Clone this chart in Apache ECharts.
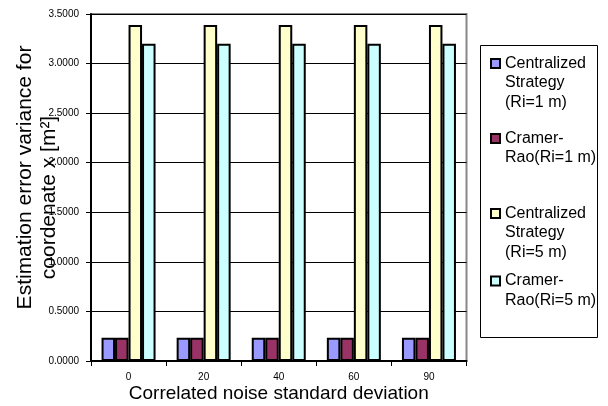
<!DOCTYPE html>
<html>
<head>
<meta charset="utf-8">
<script src="https://cdn.jsdelivr.net/npm/echarts@6/dist/echarts.min.js"></script>
<style>html,body{margin:0;padding:0;background:#fff}#c{width:608px;height:406px}</style>
</head>
<body>
<div id="c"></div>
<script>
const categories = ['0', '20', '40', '60', '90'];
const seriesNames = [
  'Centralized\nStrategy\n(Ri=1 m)',
  'Cramer-\nRao(Ri=1 m)',
  'Centralized\nStrategy\n(Ri=5 m)',
  'Cramer-\nRao(Ri=5 m)'
];
const centralizedRi1 = [0.235, 0.235, 0.235, 0.235, 0.235];
const cramerRaoRi1 = [0.235, 0.235, 0.235, 0.235, 0.235];
const centralizedRi5 = [3.39, 3.39, 3.39, 3.39, 3.39];
const cramerRaoRi5 = [3.20, 3.20, 3.20, 3.20, 3.20];
const seriesValues = [centralizedRi1, cramerRaoRi1, centralizedRi5, cramerRaoRi5];
const colors = ['#9999FF', '#993366', '#FFFFCC', '#CCFFFF'];
const xAxisTitle = 'Correlated noise standard deviation';
const yAxisTitleLines = ['Estimation error variance for', 'coordenate x [m²]'];

const chart = echarts.init(document.getElementById('c'), null, {renderer: 'canvas'});
const FONT = "'Liberation Sans', Arial, sans-serif";
const legendIconCenters = [63.5, 138.5, 213.5, 281];
const LH = 19.5;

const legends = seriesNames.map((name, i) => {
  const lines = name.split('\n').length;
  const half = (2 * lines - 1) * LH / 2;
  return {
    data: [name],
    orient: 'vertical',
    left: 490,
    top: legendIconCenters[i] - half,
    padding: 0,
    itemWidth: 9,
    itemHeight: 9,
    icon: 'rect',
    selectedMode: false,
    formatter: n => '\n'.repeat(lines - 1) + n,
    itemStyle: {borderColor: '#000', borderWidth: 2},
    textStyle: {fontFamily: FONT, fontSize: 16, color: '#000', lineHeight: LH}
  };
});

chart.setOption({
  backgroundColor: '#fff',
  animation: false,
  textStyle: {fontFamily: FONT},
  grid: {
    left: 91, right: 141.5, top: 14, bottom: 45,
    show: true, borderColor: '#888', borderWidth: 2,
    containLabel: false, outerBoundsMode: 'none'
  },
  legend: legends,
  graphic: [{
    type: 'rect',
    shape: {x: 480.5, y: 45.5, width: 117, height: 292},
    style: {fill: 'none', stroke: '#000', lineWidth: 1},
    silent: true
  }],
  xAxis: {
    type: 'category',
    data: categories,
    boundaryGap: true,
    axisLine: {show: true, lineStyle: {color: '#000', width: 2}},
    axisTick: {show: true, length: 5, lineStyle: {color: '#000', width: 1}},
    axisLabel: {fontSize: 10, color: '#000', margin: 11},
    name: xAxisTitle,
    nameLocation: 'middle',
    nameGap: 23,
    nameMoveOverlap: false,
    nameTextStyle: {fontSize: 19, color: '#000'}
  },
  yAxis: {
    type: 'value',
    min: 0, max: 3.5, interval: 0.5,
    axisLine: {show: true, lineStyle: {color: '#000', width: 2}},
    axisTick: {show: true, length: 5, lineStyle: {color: '#000', width: 1}},
    axisLabel: {fontSize: 10, color: '#000', margin: 12, formatter: v => v.toFixed(4)},
    splitLine: {show: true, lineStyle: {color: '#000', width: 1}},
    name: '{a|' + yAxisTitleLines[0] + '}\n{b|' + yAxisTitleLines[1] + '}',
    nameLocation: 'middle',
    nameGap: 30,
    nameMoveOverlap: false,
    nameTextStyle: {
      fontSize: 21, color: '#000', lineHeight: 24,
      rich: {
        a: {fontSize: 21, lineHeight: 24, padding: [0, 0, 0, 20]},
        b: {fontSize: 21, lineHeight: 24, padding: [0, 20, 0, 0]}
      }
    }
  },
  series: seriesNames.map((name, i) => ({
    name: name,
    type: 'bar',
    data: seriesValues[i],
    barWidth: 13.5,
    barGap: '0%',
    itemStyle: {color: colors[i], borderColor: '#000', borderWidth: 2}
  }))
});
</script>
</body>
</html>
